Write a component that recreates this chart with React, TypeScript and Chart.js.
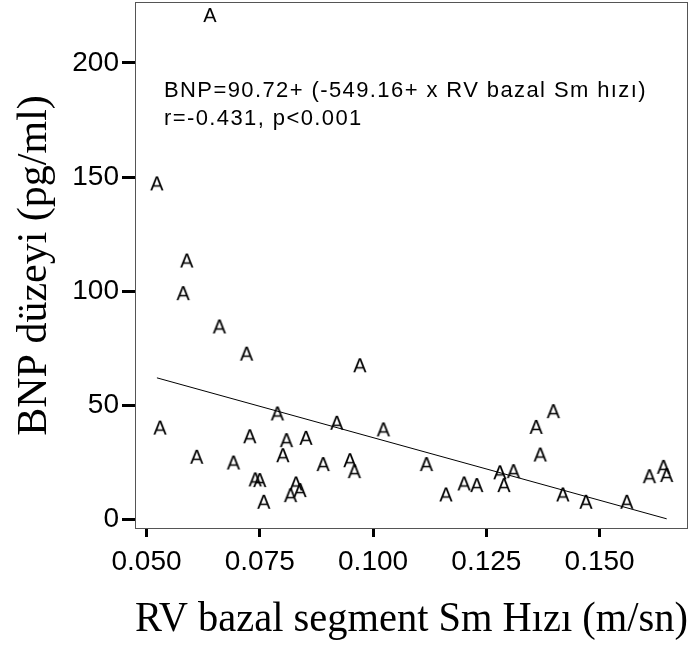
import React, { useEffect, useRef } from "react";
import { Chart, registerables } from "chart.js";

Chart.register(...registerables);

// RV bazal segment Sm hızı (m/sn)
const rvSm: number[] = [
  0.0640, 0.0523, 0.0589, 0.0581, 0.0661, 0.0721, 0.0971, 0.0530, 0.0789, 0.0920,
  0.1023, 0.0728, 0.0809, 0.0852, 0.0611, 0.0692, 0.0801, 0.0890, 0.0949, 0.0959,
  0.0740, 0.0750, 0.0759, 0.0830, 0.0839, 0.0818, 0.1398, 0.1360, 0.1369, 0.1118,
  0.1280, 0.1310, 0.1289, 0.1161, 0.1201, 0.1229, 0.1419, 0.1470, 0.1560, 0.1610,
  0.1641, 0.1648,
];
// BNP düzeyi (pg/ml)
const bnp: number[] = [
  221.0, 147.2, 113.4, 99.1, 84.5, 72.6, 67.5, 40.2, 46.4, 42.3,
  39.4, 36.4, 34.7, 35.7, 27.4, 24.9, 28.1, 24.2, 25.9, 21.1,
  17.5, 17.2, 7.7, 15.7, 12.8, 10.6, 47.4, 40.5, 28.4, 24.2,
  20.6, 21.1, 15.0, 10.9, 15.7, 15.0, 10.9, 7.7, 7.7, 18.9,
  23.0, 19.4,
];

// Regression: BNP = 90.72 + (-549.16 x RV bazal Sm hızı)
const intercept = 90.72;
const slope = -549.16;
const fitX: number[] = [Math.min(...rvSm), Math.max(...rvSm)];

const annotationLines: string[] = [
  "BNP=90.72+ (-549.16+ x RV bazal Sm hızı)",
  "r=-0.431, p<0.001",
];

const xTitle = "RV bazal segment Sm Hızı (m/sn)";
const yTitle = "BNP düzeyi (pg/ml)";

const xRange = { min: 0.04746, max: 0.1695, step: 0.025 };
const yRange = { min: -4.24, max: 226.7, step: 50 };

function makeMarker(): HTMLCanvasElement {
  const c = document.createElement("canvas");
  c.width = 24;
  c.height = 24;
  const ctx = c.getContext("2d")!;
  ctx.fillStyle = "#000";
  ctx.font = "20px 'Liberation Sans', Arial, sans-serif";
  ctx.textAlign = "center";
  ctx.textBaseline = "alphabetic";
  ctx.fillText("A", 12, 19);
  return c;
}

const framePlugin = {
  id: "frameAndNote",
  afterDraw(chart: any) {
    const { ctx, chartArea } = chart;
    ctx.save();
    ctx.strokeStyle = "#555";
    ctx.lineWidth = 1;
    ctx.strokeRect(
      Math.round(chartArea.left) + 0.5,
      Math.round(chartArea.top) + 0.5,
      Math.round(chartArea.right - chartArea.left) - 1,
      Math.round(chartArea.bottom - chartArea.top) - 1
    );
    ctx.fillStyle = "#000";
    ctx.font = "22px 'Liberation Sans', Arial, sans-serif";
    try {
      (ctx as any).letterSpacing = "1.4px";
    } catch (e) {}
    ctx.textAlign = "left";
    ctx.textBaseline = "alphabetic";
    annotationLines.forEach((t, i) => {
      ctx.fillText(t, chartArea.left + 29, chartArea.top + 95 + i * 28);
    });
    ctx.restore();
  },
};

export default function App() {
  const ref = useRef<HTMLCanvasElement | null>(null);
  useEffect(() => {
    if (!ref.current) return;
    const marker = makeMarker();
    const chart = new Chart(ref.current, {
      type: "scatter",
      data: {
        datasets: [
          {
            label: "BNP",
            data: rvSm.map((x, i) => ({ x, y: bnp[i] })),
            pointStyle: marker as any,
            pointRadius: 10,
            showLine: false,
            clip: false as any,
          },
          {
            type: "line" as any,
            label: "Fit",
            data: fitX.map((x) => ({ x, y: intercept + slope * x })),
            borderColor: "#000",
            borderWidth: 1,
            pointRadius: 0,
            showLine: true,
            fill: false,
          } as any,
        ],
      },
      plugins: [framePlugin],
      options: {
        animation: false,
        responsive: false,
        maintainAspectRatio: false,
        layout: { autoPadding: false, padding: { top: 2, right: 5, left: 0, bottom: 0 } },
        plugins: {
          legend: { display: false },
          tooltip: { enabled: false },
        },
        scales: {
          x: {
            type: "linear",
            min: xRange.min,
            max: xRange.max,
            afterFit: (s: any) => {
              s.height = 123;
              s.paddingLeft = 0;
              s.paddingRight = 0;
            },
            border: { display: false },
            grid: {
              drawOnChartArea: false,
              drawTicks: true,
              tickLength: 8,
              tickWidth: 3,
              tickColor: "#000",
            },
            ticks: {
              stepSize: xRange.step,
              includeBounds: false,
              maxRotation: 0,
              autoSkip: false,
              padding: 8,
              color: "#000",
              font: { family: "'Liberation Sans', Arial, sans-serif", size: 28 },
              callback: (v: any) => Number(v).toFixed(3),
            },
            title: {
              display: true,
              text: xTitle,
              color: "#000",
              font: { family: "'Liberation Serif', 'Times New Roman', serif", size: 42 },
              padding: { top: 0, bottom: 7 },
            },
          },
          y: {
            type: "linear",
            min: yRange.min,
            max: yRange.max,
            afterFit: (s: any) => {
              s.width = 135;
              s.paddingTop = 0;
              s.paddingBottom = 0;
            },
            border: { display: false },
            grid: {
              drawOnChartArea: false,
              drawTicks: true,
              tickLength: 13,
              tickWidth: 3,
              tickColor: "#000",
            },
            ticks: {
              stepSize: yRange.step,
              includeBounds: false,
              padding: 3,
              color: "#000",
              font: { family: "'Liberation Sans', Arial, sans-serif", size: 28 },
              callback: (v: any) => String(v),
            },
            title: {
              display: true,
              text: yTitle,
              color: "#000",
              font: { family: "'Liberation Serif', 'Times New Roman', serif", size: 42 },
              padding: { top: 10, bottom: 0 },
            },
          },
        },
      },
    });
    return () => chart.destroy();
  }, []);
  return (
    <div style={{ position: "absolute", left: 0, top: 0, width: 693, height: 652, background: "#fff" }}>
      <canvas ref={ref} width={693} height={652} style={{ display: "block", width: 693, height: 652 }} />
    </div>
  );
}
